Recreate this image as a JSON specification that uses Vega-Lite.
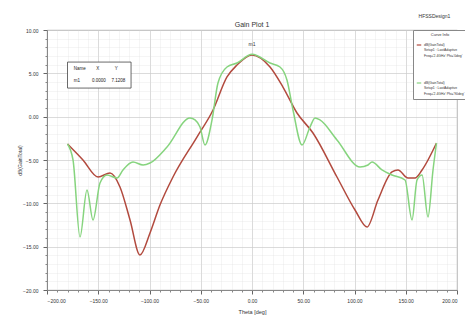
{
  "$schema": "https://vega.github.io/schema/vega-lite/v6.json",
  "width": 410,
  "height": 260,
  "autosize": "none",
  "padding": {"left": 47, "top": 30, "right": 8, "bottom": 34},
  "background": "white",
  "title": {"text": "Gain Plot 1", "fontSize": 7, "font": "Liberation Sans", "fontWeight": "normal", "color": "#333", "offset": 2, "dy": 16},
  "config": {"view": {"stroke": "#999", "strokeWidth": 0.8}, "font": "Liberation Sans"},
  "datasets": {
    "curves": [
      {"theta": -180, "gain": -3.15, "curve": "A"},
      {"theta": -164.9, "gain": -5.0, "curve": "A"},
      {"theta": -150.2, "gain": -6.96, "curve": "A"},
      {"theta": -138.5, "gain": -6.5, "curve": "A"},
      {"theta": -128.8, "gain": -8.11, "curve": "A"},
      {"theta": -119.0, "gain": -11.92, "curve": "A"},
      {"theta": -109.3, "gain": -15.96, "curve": "A"},
      {"theta": -99.5, "gain": -13.42, "curve": "A"},
      {"theta": -89.8, "gain": -10.2, "curve": "A"},
      {"theta": -77.1, "gain": -6.96, "curve": "A"},
      {"theta": -53.7, "gain": -2.35, "curve": "A"},
      {"theta": -38.0, "gain": 0.77, "curve": "A"},
      {"theta": -24.4, "gain": 4.58, "curve": "A"},
      {"theta": -14.6, "gain": 5.96, "curve": "A"},
      {"theta": 0, "gain": 7.12, "curve": "A"},
      {"theta": 17.6, "gain": 5.73, "curve": "A"},
      {"theta": 30.2, "gain": 3.42, "curve": "A"},
      {"theta": 43.9, "gain": 0.42, "curve": "A"},
      {"theta": 59.5, "gain": -1.88, "curve": "A"},
      {"theta": 82.9, "gain": -6.96, "curve": "A"},
      {"theta": 100.5, "gain": -10.77, "curve": "A"},
      {"theta": 112.2, "gain": -12.73, "curve": "A"},
      {"theta": 122.9, "gain": -9.62, "curve": "A"},
      {"theta": 136.6, "gain": -6.38, "curve": "A"},
      {"theta": 142.4, "gain": -6.15, "curve": "A"},
      {"theta": 152.2, "gain": -7.08, "curve": "A"},
      {"theta": 159.0, "gain": -7.08, "curve": "A"},
      {"theta": 165.9, "gain": -6.15, "curve": "A"},
      {"theta": 180, "gain": -3.04, "curve": "A"},
      {"theta": -180, "gain": -3.15, "curve": "B"},
      {"theta": -174.6, "gain": -5.0, "curve": "B"},
      {"theta": -167.8, "gain": -13.88, "curve": "B"},
      {"theta": -161.0, "gain": -8.46, "curve": "B"},
      {"theta": -155.1, "gain": -11.92, "curve": "B"},
      {"theta": -148.3, "gain": -7.65, "curve": "B"},
      {"theta": -141.5, "gain": -6.73, "curve": "B"},
      {"theta": -131.7, "gain": -7.08, "curve": "B"},
      {"theta": -125.9, "gain": -6.15, "curve": "B"},
      {"theta": -116.1, "gain": -5.23, "curve": "B"},
      {"theta": -106.3, "gain": -5.58, "curve": "B"},
      {"theta": -99.5, "gain": -5.35, "curve": "B"},
      {"theta": -82.9, "gain": -3.5, "curve": "B"},
      {"theta": -60.5, "gain": -0.15, "curve": "B"},
      {"theta": -55.6, "gain": -0.38, "curve": "B"},
      {"theta": -50.7, "gain": -1.19, "curve": "B"},
      {"theta": -45.9, "gain": -3.27, "curve": "B"},
      {"theta": -39.0, "gain": -0.38, "curve": "B"},
      {"theta": -33.2, "gain": 3.88, "curve": "B"},
      {"theta": -24.4, "gain": 5.73, "curve": "B"},
      {"theta": -14.6, "gain": 6.19, "curve": "B"},
      {"theta": 0, "gain": 7.2, "curve": "B"},
      {"theta": 17.6, "gain": 6.19, "curve": "B"},
      {"theta": 27.3, "gain": 5.73, "curve": "B"},
      {"theta": 34.1, "gain": 4.23, "curve": "B"},
      {"theta": 40.0, "gain": 0.77, "curve": "B"},
      {"theta": 48.8, "gain": -3.27, "curve": "B"},
      {"theta": 56.6, "gain": -1.19, "curve": "B"},
      {"theta": 61.5, "gain": -0.15, "curve": "B"},
      {"theta": 66.3, "gain": -0.38, "curve": "B"},
      {"theta": 82.9, "gain": -2.69, "curve": "B"},
      {"theta": 105.4, "gain": -5.81, "curve": "B"},
      {"theta": 113.2, "gain": -5.58, "curve": "B"},
      {"theta": 117.1, "gain": -5.23, "curve": "B"},
      {"theta": 126.8, "gain": -6.15, "curve": "B"},
      {"theta": 136.6, "gain": -6.73, "curve": "B"},
      {"theta": 149.3, "gain": -7.31, "curve": "B"},
      {"theta": 156.1, "gain": -11.92, "curve": "B"},
      {"theta": 161.0, "gain": -7.31, "curve": "B"},
      {"theta": 165.9, "gain": -6.73, "curve": "B"},
      {"theta": 171.7, "gain": -11.58, "curve": "B"},
      {"theta": 176.6, "gain": -6.15, "curve": "B"},
      {"theta": 180, "gain": -3.04, "curve": "B"}
    ],
    "table": [
      {"x1": -180, "x2": -118, "y1": 6.3, "y2": 3.3}
    ],
    "tabletext": [
      {"tx": -174, "ty": 5.5, "label": "Name"},
      {"tx": -152, "ty": 5.5, "label": "X"},
      {"tx": -134, "ty": 5.5, "label": "Y"},
      {"tx": -174, "ty": 4.1, "label": "m1"},
      {"tx": -156, "ty": 4.1, "label": "0.0000"},
      {"tx": -137, "ty": 4.1, "label": "7.1208"}
    ],
    "notes": [
      {"tx": 0, "ty": 8.4, "label": "m1", "size": 5},
      {"tx": 178, "ty": 11.6, "label": "HFSSDesign1", "size": 5}
    ]
  },
  "layer": [
    {
      "data": {"name": "curves"},
      "mark": {"type": "line", "opacity": 0},
      "encoding": {
        "x": {"field": "theta", "type": "quantitative", "scale": {"domain": [-200, 200], "nice": false},
              "axis": {"orient": "bottom", "values": [-190,-180,-170,-160,-140,-130,-120,-110,-90,-80,-70,-60,-40,-30,-20,-10,10,20,30,40,60,70,80,90,110,120,130,140,160,170,180,190], "labels": false, "ticks": true, "tickSize": 2, "tickColor": "#888", "domain": false, "title": null, "grid": true, "gridColor": "#ddd", "gridDash": [1, 1], "gridWidth": 0.6}},
        "y": {"field": "gain", "type": "quantitative", "scale": {"domain": [-20, 10], "nice": false},
              "axis": {"orient": "left", "values": [-19,-18,-17,-16,-14,-13,-12,-11,-9,-8,-7,-6,-4,-3,-2,-1,1,2,3,4,6,7,8,9], "labels": false, "ticks": true, "tickSize": 2, "tickColor": "#888", "domain": false, "title": null, "grid": true, "gridColor": "#ddd", "gridDash": [1, 1], "gridWidth": 0.6}}
      }
    },
    {
      "data": {"name": "curves"},
      "mark": {"type": "line", "interpolate": "monotone", "strokeWidth": 1.5},
      "encoding": {
        "x": {"field": "theta", "type": "quantitative",
              "axis": {"orient": "bottom", "values": [-200,-150,-100,-50,0,50,100,150,200], "format": ".2f", "labelFontSize": 5, "labelColor": "#333", "tickSize": 4, "tickColor": "#666", "domainColor": "#888", "title": "Theta [deg]", "titleFontSize": 5.5, "titleFontWeight": "normal", "titleColor": "#333", "titlePadding": 6, "labelPadding": 4, "grid": true, "gridColor": "#ccc", "gridWidth": 0.7}},
        "y": {"field": "gain", "type": "quantitative",
              "axis": {"orient": "left", "values": [-20,-15,-10,-5,0,5,10], "format": ".2f", "labelFontSize": 5, "labelColor": "#333", "tickSize": 4, "tickColor": "#666", "domainColor": "#888", "title": "dB(GainTotal)", "titleFontSize": 5, "titleFontWeight": "normal", "titleColor": "#333", "titlePadding": 0, "labelPadding": 5, "grid": true, "gridColor": "#ccc", "gridWidth": 0.7}},
        "color": {"field": "curve", "type": "nominal",
                  "scale": {"domain": ["A", "B"], "range": ["#b24a3e", "#86d47e"]},
                  "legend": {"orient": "none", "legendX": 366, "legendY": 0, "title": "Curve Info", "titleFontSize": 4, "titleFontWeight": "normal", "titleAnchor": "middle", "labelFontSize": 3.4, "labelColor": "#333", "titleColor": "#333", "symbolType": "stroke", "symbolSize": 20, "symbolStrokeWidth": 1.2, "fillColor": "white", "strokeColor": "#888", "padding": 3, "rowPadding": 22, "labelLimit": 45, "labelOffset": 2,
                             "labelExpr": "datum.label == 'A' ? ['dB(GainTotal)', 'Setup1 : LastAdaptive', 'Freq=\\'2.4GHz\\' Phi=\\'0deg\\''] : ['dB(GainTotal)', 'Setup1 : LastAdaptive', 'Freq=\\'2.4GHz\\' Phi=\\'90deg\\'']"}}
      }
    },
    {
      "data": {"name": "table"},
      "mark": {"type": "rect", "fill": "white", "stroke": "#444", "strokeWidth": 0.8},
      "encoding": {
        "x": {"field": "x1", "type": "quantitative", "axis": null},
        "x2": {"field": "x2"},
        "y": {"field": "y1", "type": "quantitative", "axis": null},
        "y2": {"field": "y2"}
      }
    },
    {
      "data": {"name": "tabletext"},
      "mark": {"type": "text", "fontSize": 4.5, "color": "#222", "align": "left", "baseline": "middle"},
      "encoding": {
        "x": {"field": "tx", "type": "quantitative", "axis": null},
        "y": {"field": "ty", "type": "quantitative", "axis": null},
        "text": {"field": "label"}
      }
    },
    {
      "data": {"name": "notes"},
      "mark": {"type": "text", "color": "#333", "align": "center", "baseline": "middle", "clip": false},
      "encoding": {
        "x": {"field": "tx", "type": "quantitative", "axis": null},
        "y": {"field": "ty", "type": "quantitative", "axis": null},
        "text": {"field": "label"},
        "size": {"field": "size", "type": "quantitative", "scale": null}
      }
    }
  ],
  "resolve": {"axis": {"x": "independent", "y": "independent"}}
}
